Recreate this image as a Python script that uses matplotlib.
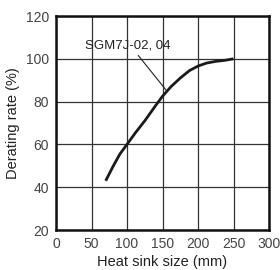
import matplotlib.pyplot as plt

# curve
heat_sink = [70, 80, 90, 100, 112, 125, 140, 150, 162, 175, 188, 200, 212, 225, 238, 250]
derating = [43, 49.5, 55.5, 60, 65.5, 71, 78, 82.5, 87, 91, 94.5, 96.6, 98, 98.8, 99.3, 100]

x_ticks = [0, 50, 100, 150, 200, 250, 300]
y_ticks = [20, 40, 60, 80, 100, 120]

plt.rcParams['font.family'] = ['Liberation Sans', 'DejaVu Sans']

fig = plt.figure(figsize=(2.8, 2.7), dpi=100)
ax = fig.add_axes([56 / 280, 40 / 270, 213 / 280, 214 / 270])

ax.plot(heat_sink, derating, color='#1a1a1a', lw=2.0, solid_capstyle='butt',
        solid_joinstyle='round')

# label + leader line
ax.text(101, 106, 'SGM7J-02, 04', ha='center', va='center', fontsize=9.5, color='#222222')
ax.plot([116, 156], [101.5, 85], color='#222222', lw=0.8)

ax.set_xlim(0, 300)
ax.set_ylim(20, 120)
ax.set_xticks(x_ticks)
ax.set_yticks(y_ticks)
ax.grid(True, color='#333333', lw=0.9)
ax.tick_params(length=0, labelsize=10, labelcolor='#444444', pad=5)
for s in ax.spines.values():
    s.set_linewidth(1.8)
    s.set_color('#111111')

ax.set_xlabel('Heat sink size (mm)', fontsize=10.5, color='#222222', labelpad=3)
ax.set_ylabel('Derating rate (%)', fontsize=10.5, color='#222222', labelpad=4)

fig.savefig('out.png', dpi=100)
